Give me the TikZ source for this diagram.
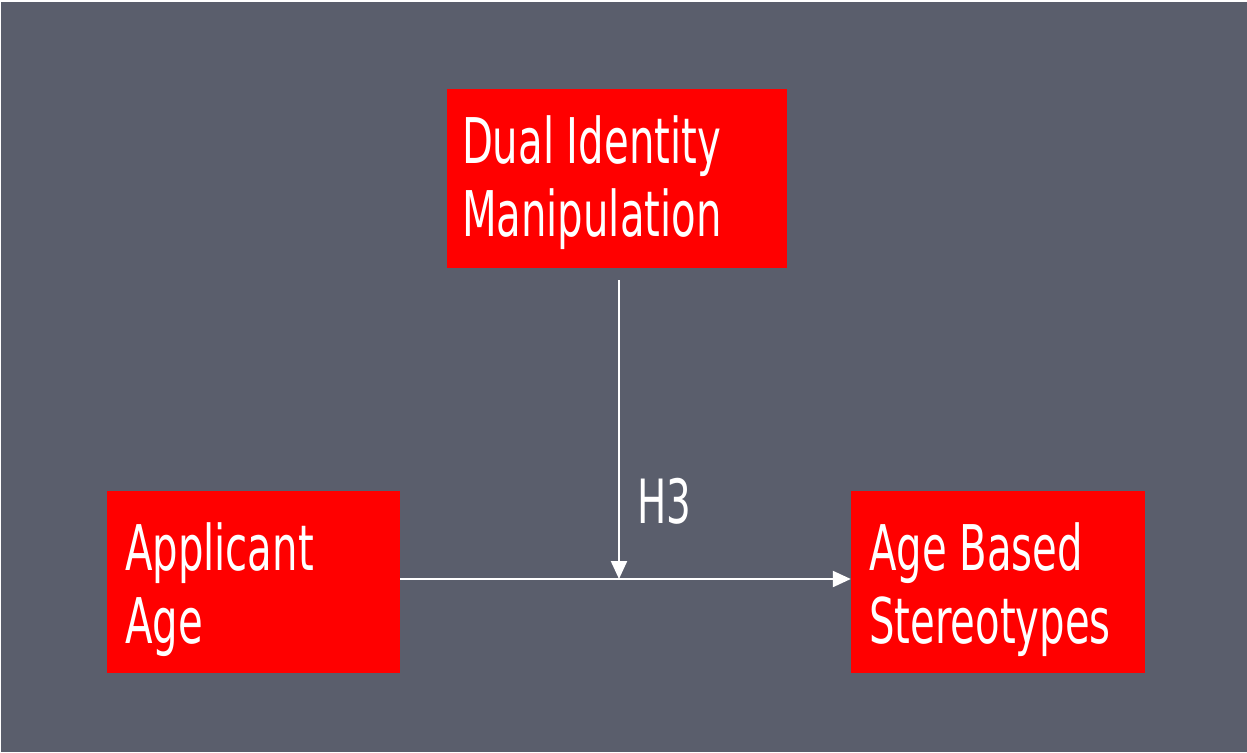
\documentclass[tikz,border=0pt]{standalone}
\usepackage{fontspec}
\usepackage{graphicx}
\setmainfont{DejaVu Sans}
\usetikzlibrary{arrows.meta,calc}

\definecolor{slate}{HTML}{5A5E6C}
\definecolor{boxred}{HTML}{FF0000}

% condensed two-line label
\newcommand{\narrowlabel}[2]{\scalebox{0.638}[1]{\begin{tabular}{@{}l@{}}#1\\#2\end{tabular}}}

\begin{document}
\begin{tikzpicture}[x=1pt,y=-1pt,
  redbox/.style={draw=none,fill=boxred,rectangle,inner sep=0pt},
  boxtext/.style={anchor=north west,inner sep=0pt,text=white,
    font=\fontsize{63}{73}\selectfont},
  link/.style={draw=white,line width=2.2pt,
    -{Triangle[length=18pt,width=16pt]}}]

  % page and backdrop
  \useasboundingbox (0,0) rectangle (1247,752);
  \fill[white] (0,0) rectangle (1247,752);
  \fill[slate] (1,2) rectangle (1247,752);

  % boxes
  \node[redbox,minimum width=340pt,minimum height=179pt] (dual) at (617,178.5) {};
  \node[redbox,minimum width=293pt,minimum height=182pt] (applicant) at (253.5,582) {};
  \node[redbox,minimum width=294pt,minimum height=182pt] (stereo) at (998,582) {};

  % box labels
  \node[boxtext] (dualtext) at ($(dual.north west)+(15,23)$)
    {\narrowlabel{Dual Identity}{Manipulation}};
  \node[boxtext] (applicanttext) at ($(applicant.north west)+(18,28)$)
    {\narrowlabel{Applicant}{Age}};
  \node[boxtext] (stereotext) at ($(stereo.north west)+(18,28)$)
    {\narrowlabel{Age Based}{Stereotypes}};

  % connectors
  \coordinate (meet) at (619,579);
  \draw[link] (applicant.east |- meet) -- (stereo.west |- meet);
  \draw[link,shorten <=12pt] (dual.south -| meet) -- (meet);

  % moderation label
  \node[anchor=base west,inner sep=0pt,text=white,
    font=\fontsize{61}{73}\selectfont] (h3) at (637,523) {\scalebox{0.638}[1]{H3}};
\end{tikzpicture}
\end{document}
